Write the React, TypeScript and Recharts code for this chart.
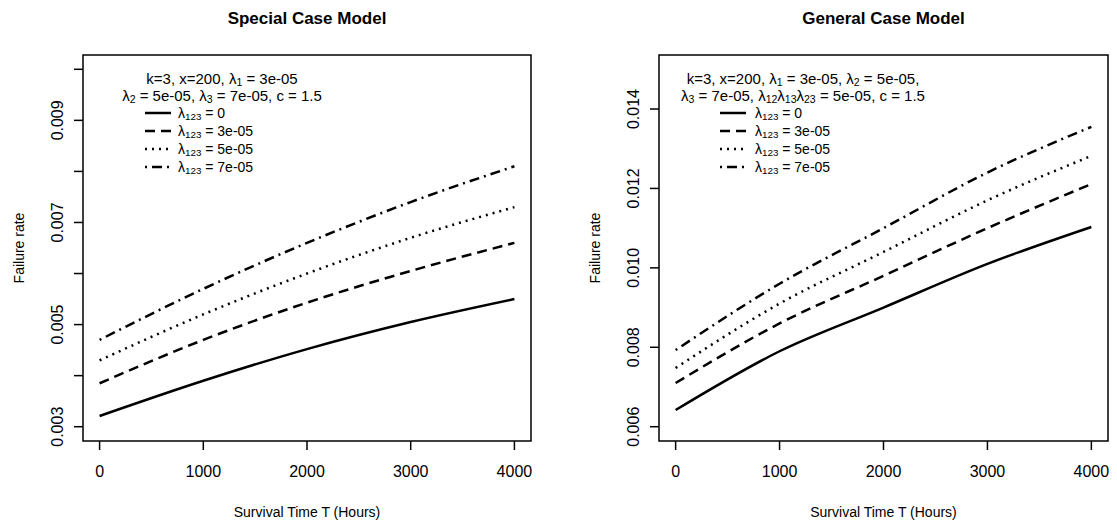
import { LineChart, Line, XAxis, YAxis, ReferenceArea, Legend } from "recharts";

const FONT = '"Liberation Sans", Arial, Helvetica, sans-serif';

// survival time (hours)
const hours = [0, 1000, 2000, 3000, 4000];
const hourTicks = [0, 1000, 2000, 3000, 4000];

// special case model, one array per lambda_123
const specialL0 = [0.00321, 0.0039, 0.00452, 0.00505, 0.0055];
const specialL3 = [0.00385, 0.0047, 0.00543, 0.00605, 0.0066];
const specialL5 = [0.0043, 0.0052, 0.006, 0.0067, 0.0073];
const specialL7 = [0.0047, 0.0057, 0.0066, 0.0074, 0.0081];

// general case model
const generalL0 = [0.00642, 0.0079, 0.009, 0.0101, 0.01103];
const generalL3 = [0.0071, 0.0086, 0.0098, 0.011, 0.01211];
const generalL5 = [0.00748, 0.0091, 0.0104, 0.0117, 0.01282];
const generalL7 = [0.00793, 0.0096, 0.011, 0.0124, 0.01355];

const lambdaLabels = ["0", "3e-05", "5e-05", "7e-05"];

const specialYTicks = [0.003, 0.004, 0.005, 0.006, 0.007, 0.008, 0.009, 0.01];
const specialYLabels = ["0.003", "0.005", "0.007", "0.009"];
const generalYTicks = [0.006, 0.008, 0.01, 0.012, 0.014];
const generalYLabels = ["0.006", "0.008", "0.010", "0.012", "0.014"];

const seriesKeys = ["l0", "l3", "l5", "l7"];
const dashes = [undefined, "10 6", "2 5", "2 5 10 5"];

function buildRows(a: number[], b: number[], c: number[], d: number[]) {
  return hours.map((t, i) => ({ t, l0: a[i], l3: b[i], l5: c[i], l7: d[i] }));
}

const specialRows = buildRows(specialL0, specialL3, specialL5, specialL7);
const generalRows = buildRows(generalL0, generalL3, generalL5, generalL7);

function XTick({ x, y, payload }: any) {
  return (
    <text x={x} y={y + 19} textAnchor="middle" dominantBaseline="central" fontSize={16} fontFamily={FONT} fill="#000">
      {payload.value}
    </text>
  );
}

function makeYTick(labelled: string[]) {
  return ({ x, y, payload }: any) => {
    const s = Number(payload.value).toFixed(3);
    if (!labelled.includes(s)) return <g />;
    return (
      <text
        transform={`translate(${x - 15},${y}) rotate(-90)`}
        textAnchor="middle"
        dominantBaseline="central"
        fontSize={16}
        fontFamily={FONT}
        fill="#000"
      >
        {s}
      </text>
    );
  };
}

const lam = (sub: string) => (
  <span>
    λ<sub style={{ fontSize: "0.7em", lineHeight: 0, verticalAlign: "-0.2em" }}>{sub}</sub>
  </span>
);

function LegendBody({ head, width, sampleLeft, textLeft }: any) {
  return (
    <div style={{ position: "relative", width, height: 110, fontFamily: FONT, color: "#000" }}>
      {head.map((line: any, i: number) => (
        <div
          key={i}
          style={{ position: "absolute", left: 0, top: i * 17, width, textAlign: "center", fontSize: 15, lineHeight: "17px", whiteSpace: "nowrap" }}
        >
          {line}
        </div>
      ))}
      {lambdaLabels.map((lab, i) => (
        <div key={lab} style={{ position: "absolute", left: 0, top: 34 + i * 18, height: 18, width }}>
          <svg style={{ position: "absolute", left: sampleLeft, top: 0 }} width={26} height={18}>
            <line x1={0} y1={9} x2={26} y2={9} stroke="#000" strokeWidth={2.5} strokeDasharray={dashes[i]} />
          </svg>
          <div style={{ position: "absolute", left: textLeft, top: 0, fontSize: 14, lineHeight: "18px", whiteSpace: "nowrap" }}>
            {lam("123")} = {lab}
          </div>
        </div>
      ))}
    </div>
  );
}

function Panel(props: any) {
  const { rows, title, yDomain, yTicks, yLabels, width, marginRight, legend } = props;
  const plotLeft = 83;
  const plotRight = width - marginRight;
  return (
    <div style={{ position: "absolute", left: props.left, top: 0, width, height: 527 }}>
      <div
        style={{
          position: "absolute",
          left: plotLeft,
          width: plotRight - plotLeft,
          top: 9,
          textAlign: "center",
          fontFamily: FONT,
          fontWeight: "bold",
          fontSize: 17,
        }}
      >
        {title}
      </div>
      <LineChart width={width} height={527} data={rows} margin={{ top: 55, right: marginRight, left: 17, bottom: 0 }}>
        <XAxis
          dataKey="t"
          type="number"
          domain={[-160, 4160]}
          ticks={hourTicks}
          axisLine={false}
          tickLine={{ stroke: "#000", strokeWidth: 1.5 }}
          tickSize={9}
          height={86}
          tick={<XTick />}
          label={{ value: "Survival Time T (Hours)", position: "insideBottom", offset: 10, fill: "#000", style: { fontSize: 14, fontFamily: FONT } }}
        />
        <YAxis
          type="number"
          domain={yDomain}
          ticks={yTicks}
          allowDataOverflow
          axisLine={false}
          tickLine={{ stroke: "#000", strokeWidth: 1.5 }}
          tickSize={9}
          width={66}
          tick={makeYTick(yLabels)}
          label={{ value: "Failure rate", angle: -90, position: "insideLeft", offset: 2, textAnchor: "middle", fill: "#000", style: { fontSize: 14, fontFamily: FONT } }}
        />
        <ReferenceArea x1={-160} x2={4160} y1={yDomain[0]} y2={yDomain[1]} fill="none" stroke="#000" strokeWidth={1.5} strokeOpacity={1} />
        {seriesKeys.map((k, i) => (
          <Line
            key={k}
            type="monotone"
            dataKey={k}
            stroke="#000"
            strokeWidth={2.5}
            strokeDasharray={dashes[i]}
            dot={false}
            isAnimationActive={false}
          />
        ))}
        <Legend
          layout="horizontal"
          verticalAlign="middle"
          align="center"
          content={() => legend.node}
          wrapperStyle={{ left: legend.left, top: 70, width: legend.width, height: 110 }}
        />
      </LineChart>
    </div>
  );
}

export default function App() {
  const specialHead = [
    <span>k=3, x=200, {lam("1")} = 3e-05</span>,
    <span>
      {lam("2")} = 5e-05, {lam("3")} = 7e-05, c = 1.5
    </span>,
  ];
  const generalHead = [
    <span>
      k=3, x=200, {lam("1")} = 3e-05, {lam("2")} = 5e-05,
    </span>,
    <span>
      {lam("3")} = 7e-05, {lam("12")}
      {lam("13")}
      {lam("23")} = 5e-05, c = 1.5
    </span>,
  ];
  return (
    <div style={{ position: "absolute", left: 0, top: 0, width: 1117, height: 527, background: "#fff" }}>
      <Panel
        left={0}
        width={558}
        marginRight={27}
        rows={specialRows}
        title="Special Case Model"
        yDomain={[0.00272, 0.01028]}
        yTicks={specialYTicks}
        yLabels={specialYLabels}
        legend={{ left: 96, width: 252, node: <LegendBody head={specialHead} width={252} sampleLeft={49} textLeft={82} /> }}
      />
      <Panel
        left={576}
        width={541}
        marginRight={9}
        rows={generalRows}
        title="General Case Model"
        yDomain={[0.00564, 0.01536]}
        yTicks={generalYTicks}
        yLabels={generalYLabels}
        legend={{ left: 64, width: 326, node: <LegendBody head={generalHead} width={326} sampleLeft={80} textLeft={115} /> }}
      />
    </div>
  );
}
